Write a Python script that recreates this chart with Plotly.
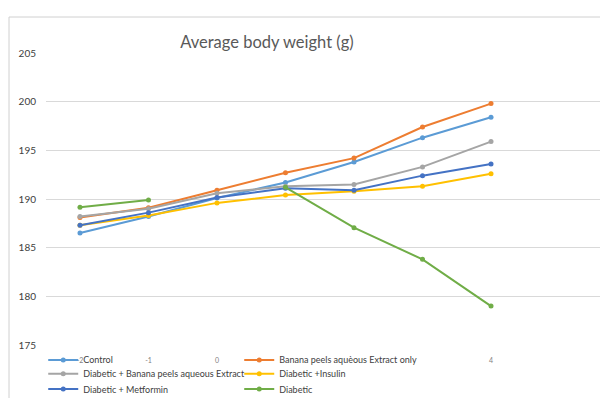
import plotly.graph_objects as go

# Time points (weeks) and average body weight per group (g)
weeks = [-2, -1, 0, 1, 2, 3, 4]
# Week labels printed under the axis (the legend sits over weeks 1-3)
label_weeks = [-2, -1, 0, 4]
tick_labels = ["-2", "-1", "0", "4"]

control = [186.5, 188.2, 190.1, 191.7, 193.8, 196.3, 198.4]
banana_only = [188.1, 189.1, 190.9, 192.7, 194.2, 197.4, 199.8]
diabetic_banana = [188.2, 189.0, 190.6, 191.3, 191.5, 193.3, 195.9]
diabetic_insulin = [187.3, 188.3, 189.6, 190.4, 190.8, 191.3, 192.6]
diabetic_metformin = [187.3, 188.6, 190.15, 191.1, 190.9, 192.4, 193.6]
diabetic = [189.15, 189.9, None, 191.2, 187.05, 183.8, 179.0]

# (name, values, colour, legend row)
series = [
    ("Control", control, "#5B9BD5", "legend"),
    ("Banana peels aquèous Extract only", banana_only, "#ED7D31", "legend"),
    ("Diabetic + Banana peels aqueous Extract", diabetic_banana, "#A5A5A5", "legend2"),
    ("Diabetic +Insulin", diabetic_insulin, "#FFC000", "legend2"),
    ("Diabetic + Metformin", diabetic_metformin, "#4472C4", "legend3"),
    ("Diabetic", diabetic, "#70AD47", "legend3"),
]

fig = go.Figure()
for name, vals, color, leg in series:
    fig.add_trace(go.Scatter(
        x=weeks, y=vals, name=name, mode="lines+markers",
        line=dict(color=color, width=2),
        marker=dict(color=color, size=5),
        connectgaps=False, legend=leg,
    ))

font = "Lato, 'Open Sans', sans-serif"


def legend_row(ytop):
    return dict(orientation="h", x=-0.005, xanchor="left", y=ytop,
                yanchor="top", bgcolor="rgba(0,0,0,0)",
                entrywidth=151, entrywidthmode="pixels",
                font=dict(size=9, color="#404040", family=font),
                itemwidth=30)


fig.update_layout(
    width=600, height=398,
    margin=dict(l=46, r=0, t=53, b=53, autoexpand=False),
    paper_bgcolor="white", plot_bgcolor="white",
    font=dict(family=font, color="#404040"),
    title=dict(text="Average body weight (g)", x=267 / 600, xanchor="center",
               y=1 - 42 / 398, yanchor="middle",
               font=dict(size=16.5, color="#595959", family=font)),
    xaxis=dict(range=[-2.496, 5.591], tickvals=label_weeks, ticktext=tick_labels,
               showgrid=False, zeroline=False, showline=False, ticks="",
               tickfont=dict(size=7, color="#808080"), ticklabelstandoff=10),
    yaxis=dict(range=[175, 205], dtick=5, showgrid=True, gridcolor="#D9D9D9",
               gridwidth=1, zeroline=False, showline=False, ticks="",
               tickfont=dict(size=10, color="#404040"), ticklabelstandoff=9),
    showlegend=True,
    legend=legend_row(-0.0014),
    legend2=legend_row(-0.049),
    legend3=legend_row(-0.101),
    shapes=[dict(type="rect", xref="paper", yref="paper",
                 x0=(9 - 46) / 554, x1=1.05, y0=-0.25, y1=(345 - 17) / 292,
                 line=dict(color="#D0D0D0", width=1), layer="above")],
)

fig.write_html("out.html")
